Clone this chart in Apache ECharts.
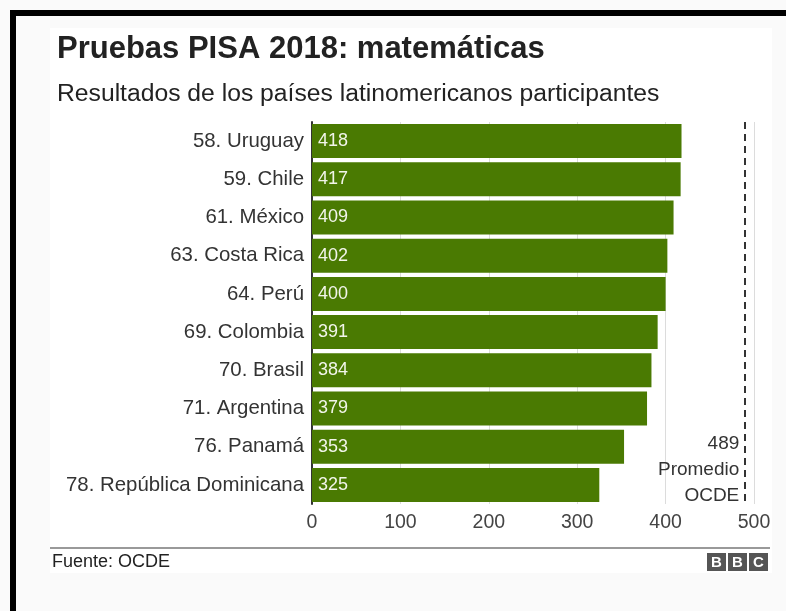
<!DOCTYPE html>
<html>
<head>
<meta charset="utf-8">
<script src="https://cdn.jsdelivr.net/npm/echarts@6/dist/echarts.min.js"></script>
<style>
html,body{margin:0;padding:0;background:#fafafa;}
#chart{width:786px;height:611px;}
</style>
</head>
<body>
<div id="chart"></div>
<script>
const categories = ["58. Uruguay","59. Chile","61. México","63. Costa Rica","64. Perú","69. Colombia","70. Brasil","71. Argentina","76. Panamá","78. República Dominicana"];
const scores = [418,417,409,402,400,391,384,379,353,325];
const oecdAverage = 489;
const oecdLabel = ["489","Promedio","OCDE"];
const xTicks = [0,100,200,300,400,500];

const FONT = '"Liberation Sans", Arial, Helvetica, sans-serif';
const chart = echarts.init(document.getElementById('chart'), null, {renderer:'canvas'});
const GRID_TOP = 122, GRID_H = 382;

const option = {
  backgroundColor: '#fafafa',
  animation: false,
  grid: {left: 312, right: 32, top: GRID_TOP, height: GRID_H, containLabel: false},
  xAxis: {
    type: 'value', min: xTicks[0], max: xTicks[xTicks.length-1], interval: 100,
    axisLine: {show: false}, axisTick: {show: false},
    axisLabel: {fontFamily: FONT, fontSize: 19.5, color: '#444', margin: 9},
    splitLine: {show: true, lineStyle: {color: '#dcdcdc', width: 1}}
  },
  yAxis: {
    type: 'category', data: categories, inverse: true,
    axisLine: {show: true, lineStyle: {color: '#333', width: 2}},
    axisTick: {show: false},
    axisLabel: {fontFamily: FONT, fontSize: 20.4, color: '#333', margin: 8}
  },
  series: [{
    type: 'bar', data: scores, barCategoryGap: '11%',
    itemStyle: {color: '#4a7a02'},
    label: {show: true, position: 'insideLeft', offset: [0, 0], distance: 6, fontFamily: FONT, fontSize: 18, color: '#f2f5ea'},
    markLine: {
      silent: true, symbol: ['none','none'],
      lineStyle: {color: '#333', width: 2, type: [7, 5]},
      label: {show: false},
      data: [{xAxis: oecdAverage}]
    }
  }]
};
chart.setOption(option);

const px = chart.convertToPixel({gridIndex: 0}, [oecdAverage, categories[categories.length-1]]);
const gridBottom = GRID_TOP + GRID_H;

chart.setOption({
  graphic: [
    {type:'rect', silent:true, z:-10, shape:{x:50, y:28, width:722, height:545}, style:{fill:'#ffffff'}},
    {type:'rect', silent:true, z:100, shape:{x:10, y:10, width:776, height:6}, style:{fill:'#000'}},
    {type:'rect', silent:true, z:100, shape:{x:10, y:10, width:6, height:601}, style:{fill:'#000'}},
    {type:'text', silent:true, x:57, y:49, style:{text:'Pruebas PISA 2018: matemáticas', font:'bold 31px '+FONT, fill:'#222', textVerticalAlign:'middle'}},
    {type:'text', silent:true, x:57, y:94, style:{text:'Resultados de los países latinomericanos participantes', font:'24.7px '+FONT, fill:'#222', textVerticalAlign:'middle'}},
    {type:'text', silent:true, x:px[0]-5, y:gridBottom+5, style:{text:oecdLabel.join('\n'), font:'19px '+FONT, fill:'#333', textAlign:'right', textVerticalAlign:'bottom', lineHeight:26}},
    {type:'line', silent:true, shape:{x1:50, y1:548, x2:770, y2:548}, style:{stroke:'#999', lineWidth:2}},
    {type:'text', silent:true, x:52, y:562, style:{text:'Fuente: OCDE', font:'18px '+FONT, fill:'#222', textVerticalAlign:'middle'}},
    {type:'rect', silent:true, shape:{x:707, y:553, width:19, height:18}, style:{fill:'#555'}},
    {type:'rect', silent:true, shape:{x:728, y:553, width:19, height:18}, style:{fill:'#555'}},
    {type:'rect', silent:true, shape:{x:749, y:553, width:19, height:18}, style:{fill:'#555'}},
    {type:'text', silent:true, x:716.5, y:562.5, style:{text:'B', font:'bold 15px '+FONT, fill:'#fff', textAlign:'center', textVerticalAlign:'middle'}},
    {type:'text', silent:true, x:737.5, y:562.5, style:{text:'B', font:'bold 15px '+FONT, fill:'#fff', textAlign:'center', textVerticalAlign:'middle'}},
    {type:'text', silent:true, x:758.5, y:562.5, style:{text:'C', font:'bold 15px '+FONT, fill:'#fff', textAlign:'center', textVerticalAlign:'middle'}}
  ]
});
</script>
</body>
</html>
